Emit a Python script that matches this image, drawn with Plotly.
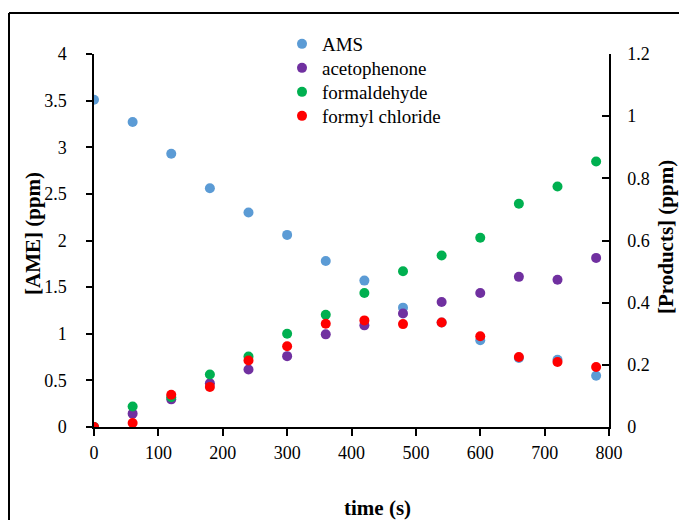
import plotly.graph_objects as go

time_s = [0, 60, 120, 180, 240, 300, 360, 420, 480, 540, 600, 660, 720, 780]
ams = [3.51, 3.27, 2.93, 2.56, 2.30, 2.06, 1.78, 1.57, 1.28, 1.12, 0.93, 0.74, 0.72, 0.55]
acetophenone = [0.0, 0.043, 0.089, 0.141, 0.185, 0.228, 0.298, 0.327, 0.365, 0.402, 0.431, 0.483, 0.474, 0.544]
formaldehyde = [0.0, 0.066, 0.096, 0.169, 0.227, 0.300, 0.361, 0.431, 0.501, 0.552, 0.609, 0.718, 0.774, 0.854]
formyl_chloride = [0.0, 0.013, 0.104, 0.129, 0.214, 0.260, 0.332, 0.343, 0.331, 0.336, 0.292, 0.225, 0.209, 0.193]

series_names = ["AMS", "acetophenone", "formaldehyde", "formyl chloride"]
series_colors = ["#5B9BD5", "#7030A0", "#00B050", "#FF0000"]

x_ticks = [0, 100, 200, 300, 400, 500, 600, 700, 800]
left_ticks = [0, 0.5, 1, 1.5, 2, 2.5, 3, 3.5, 4]
right_ticks = [0, 0.2, 0.4, 0.6, 0.8, 1.0, 1.2]

x_title = "time (s)"
left_title = "[AME] (ppm)"
right_title = "[Products] (ppm)"

FONT = "Liberation Serif"
W, H = 671, 512
# plot-area edges in figure pixels (page adds an 8px body margin)
L, R, T, B = 86, 601, 46, 419

def px(xp):
    return (xp - L) / (R - L)

def py(yp):
    return (B - yp) / (B - T)

fig = go.Figure()
series_data = [ams, acetophenone, formaldehyde, formyl_chloride]
series_axes = ["y", "y2", "y2", "y2"]
legend_ids = ["legend", "legend2", "legend3", "legend4"]
for name, vals, color, ax, lg in zip(series_names, series_data, series_colors, series_axes, legend_ids):
    fig.add_trace(go.Scatter(x=time_s, y=vals, mode="markers", name=name,
                             marker=dict(color=color, size=10, line=dict(width=0)),
                             yaxis=ax, legend=lg))

tickfont = dict(family=FONT, size=18, color="black")
axis_common = dict(showgrid=False, zeroline=False, showline=True, linecolor="black",
                   linewidth=1.5, tickcolor="black", tickwidth=1.5, tickfont=tickfont)

legend_style = dict(xanchor="left", yanchor="middle",
                    font=dict(family=FONT, size=19, color="black"),
                    bgcolor="rgba(0,0,0,0)", itemwidth=30)
legend_rows = [36, 60, 84, 108]

title_font = dict(family=FONT, size=21, color="black")

fig.update_layout(
    width=W, height=H,
    margin=dict(l=L, r=W - R, t=T, b=H - B, autoexpand=False),
    paper_bgcolor="white", plot_bgcolor="white",
    font=dict(family=FONT, color="black"),
    xaxis=dict(range=[0, 800], tickvals=x_ticks, ticks="outside", ticklen=7,
               ticklabelstandoff=2, **axis_common),
    yaxis=dict(range=[0, 4], tickvals=left_ticks, ticks="outside", ticklen=6,
               ticktext=[f"{v:g}" for v in left_ticks], ticklabelstandoff=16,
               **axis_common),
    yaxis2=dict(range=[0, 1.2], tickvals=right_ticks, overlaying="y", side="right",
                ticktext=[f"{v:g}" for v in right_ticks], ticks="inside", ticklen=7,
                ticklabelstandoff=13, **axis_common),
    showlegend=True,
    annotations=[
        dict(text=f"<b>{x_title}</b>", xref="paper", yref="paper", x=px(369), y=py(500),
             xanchor="center", yanchor="middle", showarrow=False, font=title_font),
        dict(text=f"<b>{left_title}</b>", xref="paper", yref="paper", x=px(25), y=py(226),
             xanchor="center", yanchor="middle", showarrow=False, textangle=-90, font=title_font),
        dict(text=f"<b>{right_title}</b>", xref="paper", yref="paper", x=px(658), y=py(229),
             xanchor="center", yanchor="middle", showarrow=False, textangle=-90, font=title_font),
    ],
    shapes=[
        dict(type="line", xref="paper", yref="paper", x0=px(1), x1=px(1), y0=py(5), y1=py(600),
             line=dict(color="black", width=2)),
        dict(type="line", xref="paper", yref="paper", x0=px(1), x1=px(720), y0=py(5), y1=py(5),
             line=dict(color="black", width=2)),
    ],
)
for lg, row in zip(legend_ids, legend_rows):
    fig.update_layout({lg: dict(x=px(274), y=py(row), **legend_style)})

fig.write_html("out.html")
